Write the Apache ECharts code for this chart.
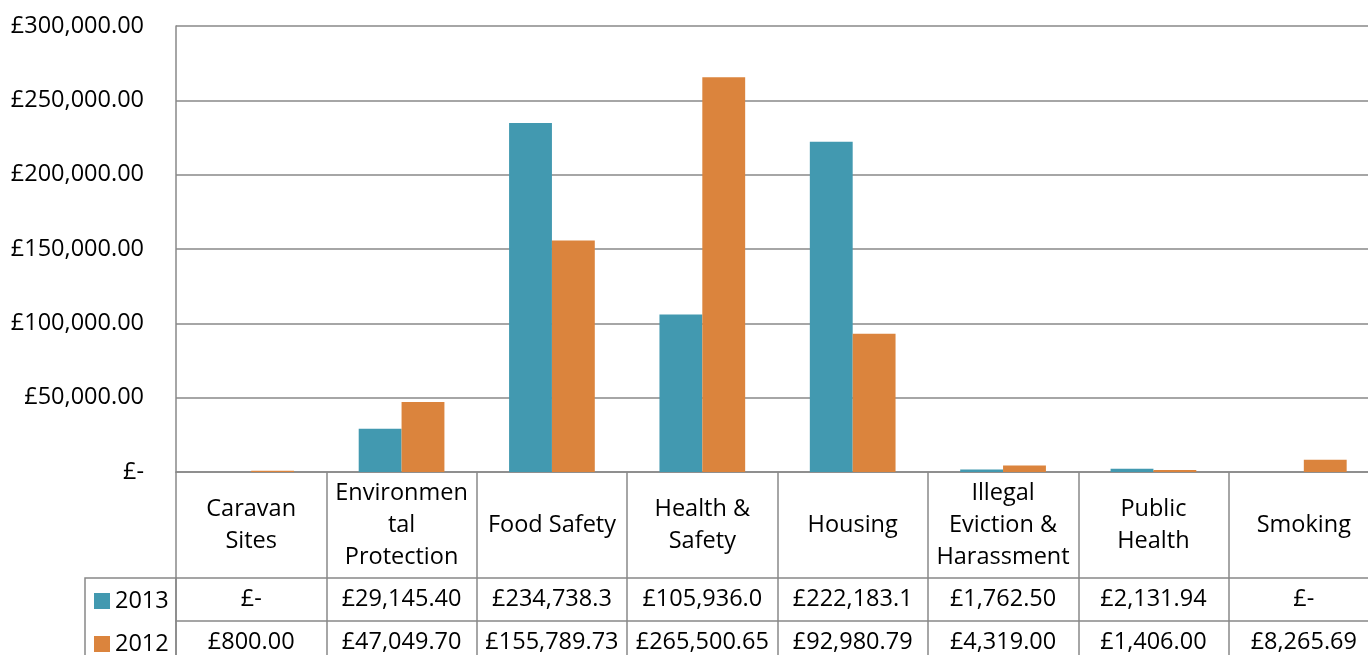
<!DOCTYPE html>
<html>
<head>
<meta charset="utf-8">
<script src="https://cdn.jsdelivr.net/npm/echarts@6/dist/echarts.min.js"></script>
<style>
html,body{margin:0;padding:0;background:#fff;}
#chart{width:1368px;height:655px;}
</style>
</head>
<body>
<div id="chart"></div>
<script>
// ---- data ----
var categories = ['Caravan\nSites', 'Environmen\ntal\nProtection', 'Food Safety', 'Health &\nSafety', 'Housing', 'Illegal\nEviction &\nHarassment', 'Public\nHealth', 'Smoking'];
var seriesNames = ['2013', '2012'];
var values2013 = [0, 29145.40, 234738.3, 105936.0, 222183.1, 1762.50, 2131.94, 0];
var values2012 = [800.00, 47049.70, 155789.73, 265500.65, 92980.79, 4319.00, 1406.00, 8265.69];
var table2013 = ['£-', '£29,145.40', '£234,738.3', '£105,936.0', '£222,183.1', '£1,762.50', '£2,131.94', '£-'];
var table2012 = ['£800.00', '£47,049.70', '£155,789.73', '£265,500.65', '£92,980.79', '£4,319.00', '£1,406.00', '£8,265.69'];
var yMin = 0, yMax = 300000, yStep = 50000;

// ---- chart ----
var FONT = 'Open Sans';
var FS = 23.5;
var LINE = '#888888';
var LW = 1.5;
var chart = echarts.init(document.getElementById('chart'));

function yFmt(v) {
  if (v === 0) return '£-';
  return '£' + v.toLocaleString('en-GB', {minimumFractionDigits: 2, maximumFractionDigits: 2});
}

function tableXAxis(gridIndex, labels, rowH, lh) {
  return {
    type: 'category', gridIndex: gridIndex, data: labels, position: 'bottom',
    axisLine: {show: true, lineStyle: {color: LINE, width: LW}},
    axisTick: {show: false},
    splitLine: {show: true, interval: 0, lineStyle: {color: LINE, width: LW}},
    axisLabel: {
      interval: 0, margin: -rowH / 2, verticalAlign: 'middle', align: 'center',
      fontFamily: FONT, fontSize: FS, color: '#000', lineHeight: lh || 28
    }
  };
}
function hiddenY(gridIndex) {
  return {type: 'value', gridIndex: gridIndex, show: false, min: 0, max: 1,
    splitLine: {show: false}, axisLine: {show: false}};
}
function legendRow(name, top) {
  return {
    data: [name], orient: 'vertical', left: 94, top: top, padding: 0, height: 60,
    itemWidth: 16, itemHeight: 16, icon: 'rect',
    textStyle: {fontFamily: FONT, fontSize: FS, color: '#000', lineHeight: 22},
    selectedMode: false
  };
}

var gridBase = {left: 176, right: -11, outerBoundsMode: 'none', containLabel: false};
var option = {
  backgroundColor: '#ffffff',
  animation: false,
  textStyle: {fontFamily: FONT},
  color: ['#4299B0', '#DB843D'],
  legend: [legendRow(seriesNames[0], 589), legendRow(seriesNames[1], 632)],
  grid: [
    Object.assign({}, gridBase, {top: 26, bottom: 183}),
    Object.assign({}, gridBase, {top: 472, height: 106}),
    Object.assign({}, gridBase, {top: 578, height: 43}),
    Object.assign({}, gridBase, {top: 621, height: 43}),
    {left: 85, width: 91, top: 578, height: 86, outerBoundsMode: 'none', containLabel: false,
     show: true, borderColor: LINE, borderWidth: LW, backgroundColor: 'transparent'}
  ],
  xAxis: [
    {type: 'category', gridIndex: 0, data: categories,
     axisLine: {show: true, lineStyle: {color: LINE, width: LW}},
     axisTick: {show: false}, axisLabel: {show: false}, splitLine: {show: false}},
    tableXAxis(1, categories, 106, 32),
    tableXAxis(2, table2013, 43),
    tableXAxis(3, table2012, 43),
    {type: 'category', gridIndex: 4, data: [''], show: false}
  ],
  yAxis: [
    {type: 'value', gridIndex: 0, min: yMin, max: yMax, interval: yStep,
     axisLine: {show: true, lineStyle: {color: LINE, width: LW}},
     axisTick: {show: false},
     splitLine: {show: true, lineStyle: {color: LINE, width: LW}},
     axisLabel: {formatter: yFmt, margin: 32, fontFamily: FONT, fontSize: FS, color: '#000'}},
    hiddenY(1), hiddenY(2), hiddenY(3), hiddenY(4)
  ],
  series: [
    {name: seriesNames[0], type: 'bar', xAxisIndex: 0, yAxisIndex: 0, data: values2013,
     barGap: '0%', barCategoryGap: '43%'},
    {name: seriesNames[1], type: 'bar', xAxisIndex: 0, yAxisIndex: 0, data: values2012,
     barGap: '0%', barCategoryGap: '43%'}
  ]
};
chart.setOption(option);
</script>
</body>
</html>
